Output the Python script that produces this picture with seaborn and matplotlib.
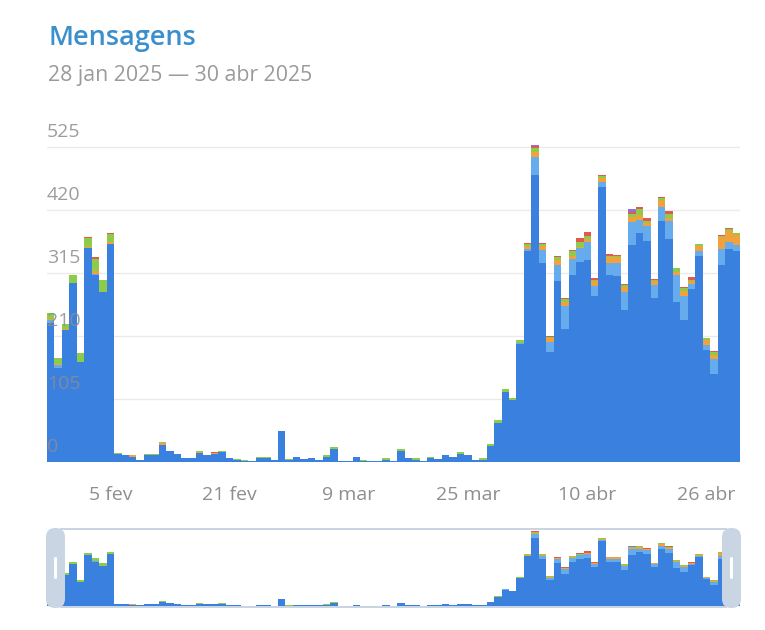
import matplotlib
matplotlib.use("Agg")
import matplotlib.pyplot as plt
from matplotlib.patches import FancyBboxPatch, Rectangle
import seaborn as sns
import pandas as pd
import numpy as np

# ---------------- data ----------------
start_date = "2025-01-28"
end_date = "2025-04-30"
tick_dates = ["2025-02-05", "2025-02-21", "2025-03-09", "2025-03-25", "2025-04-10", "2025-04-26"]
tick_labels = ["5 fev", "21 fev", "9 mar", "25 mar", "10 abr", "26 abr"]
y_ticks = [0, 105, 210, 315, 420, 525]

title = "Mensagens"
subtitle = "28 jan 2025 \u2014 30 abr 2025"

dark = [232, 157, 220, 298, 167, 356, 311, 284, 364,
        13, 11, 9, 4, 12, 12, 29, 18, 13, 6,
        6, 15, 12, 13, 17, 7, 4, 2, 1, 6,
        6, 3, 52, 3, 8, 5, 6, 4, 8, 22,
        2, 1, 8, 1, 2, 1, 4, 1, 18, 6,
        4, 1, 6, 5, 11, 9, 14, 11, 4, 4,
        26, 65, 116, 103, 197,
        351, 479, 332, 184, 301, 222, 312, 334, 337, 276,
        459, 312, 310, 254, 362, 382, 368, 273, 401, 371,
        266, 236, 288, 344, 187, 146, 329, 355, 351]
light = [4, 5, 0, 0, 0, 0, 3, 0, 0,
         0, 0, 0, 0, 0, 0, 0, 0, 0, 0,
         0, 0, 0, 0, 0, 0, 0, 0, 0, 0,
         0, 0, 0, 0, 0, 0, 0, 0, 0, 0,
         0, 0, 0, 0, 0, 0, 0, 0, 0, 0,
         0, 0, 0, 0, 0, 0, 0, 0, 0, 0,
         0, 0, 1, 1, 1,
         4, 30, 22, 16, 28, 38, 26, 22, 30, 18,
         8, 20, 22, 30, 38, 22, 25, 22, 24, 30,
         45, 40, 8, 8, 8, 25, 26, 12, 10]
orange = [2, 1, 1, 1, 0, 2, 5, 0, 2,
          0, 0, 2, 0, 0, 0, 2, 1, 0, 0,
          0, 1, 0, 2, 0, 0, 0, 0, 0, 0,
          0, 0, 0, 0, 0, 0, 0, 0, 0, 0,
          0, 0, 0, 0, 0, 0, 0, 0, 0, 0,
          0, 0, 0, 0, 0, 0, 0, 0, 0, 0,
          0, 0, 0, 0, 1,
          5, 7, 6, 6, 7, 7, 5, 3, 5, 7,
          6, 10, 10, 8, 8, 8, 6, 7, 12, 6,
          6, 9, 6, 8, 9, 8, 20, 18, 17]
green = [10, 10, 9, 12, 14, 16, 19, 19, 14,
         2, 1, 0, 0, 2, 2, 2, 0, 0, 0,
         0, 2, 0, 0, 1, 0, 1, 1, 0, 3,
         3, 0, 0, 2, 0, 0, 0, 0, 3, 3,
         0, 0, 0, 2, 0, 0, 3, 0, 3, 0,
         3, 0, 3, 0, 0, 0, 3, 0, 0, 3,
         4, 5, 5, 3, 5,
         4, 7, 3, 3, 5, 4, 8, 8, 4, 2,
         4, 2, 2, 3, 6, 10, 3, 2, 3, 7,
         6, 5, 2, 3, 2, 4, 2, 3, 3]
red = [0, 0, 0, 0, 0, 1, 3, 0, 1,
       0, 0, 0, 0, 0, 0, 0, 0, 0, 0,
       0, 0, 0, 1, 0, 0, 0, 0, 0, 0,
       0, 0, 0, 0, 0, 0, 0, 0, 0, 0,
       0, 0, 0, 0, 0, 0, 0, 0, 0, 0,
       0, 0, 0, 0, 0, 0, 0, 0, 0, 0,
       0, 0, 0, 0, 0,
       1, 3, 2, 1, 2, 2, 2, 6, 8, 4,
       2, 2, 1, 1, 2, 3, 5, 1, 2, 5,
       1, 1, 4, 1, 1, 2, 2, 2, 1]
purple = [0, 0, 0, 0, 0, 0, 0, 0, 0,
          0, 0, 0, 0, 0, 0, 0, 0, 0, 0,
          0, 0, 0, 0, 0, 0, 0, 0, 0, 0,
          0, 0, 0, 0, 0, 0, 0, 0, 0, 0,
          0, 0, 0, 0, 0, 0, 0, 0, 0, 0,
          0, 0, 0, 0, 0, 0, 0, 0, 0, 0,
          0, 0, 0, 0, 0,
          0, 2, 0, 0, 0, 0, 0, 0, 0, 0,
          0, 0, 0, 0, 6, 0, 0, 0, 0, 0,
          0, 0, 0, 0, 0, 0, 0, 0, 0]

series_values = {"dark": dark, "light": light, "orange": orange,
                 "green": green, "red": red, "purple": purple}
palette = {"dark": "#3a80df", "light": "#66acec", "orange": "#f2a23c",
           "green": "#8dcb4a", "red": "#e05a50", "purple": "#8e70d8"}
# seaborn stacks the first hue level on top
hue_order = ["purple", "red", "green", "orange", "light", "dark"]

# ---------------- build table ----------------
dates = pd.date_range(start_date, end_date, freq="D")
n = len(dates)
rows = []
for name, vals in series_values.items():
    for i, v in enumerate(vals):
        rows.append({"day": i, "series": name, "value": v})
df = pd.DataFrame(rows)
tick_pos = [int((pd.Timestamp(d) - dates[0]).days) for d in tick_dates]

# ---------------- figure ----------------
sns.set_theme(style="white")
plt.rcParams["font.family"] = ["Open Sans", "DejaVu Sans"]

W, H = 765, 630
fig = plt.figure(figsize=(W / 100, H / 100), dpi=100)
fig.patch.set_facecolor("white")

def fx(px):
    return px / W

def fy(py):
    return 1 - py / H

# main axes: x 47..740, y 138..462 (px from top)
ax = fig.add_axes([fx(47), fy(462), fx(740) - fx(47), fy(138) - fy(462)])
for gv in y_ticks:
    ax.axhline(gv, color="#ebebeb", lw=1.0, zorder=0)

sns.histplot(data=df, x="day", weights="value", hue="series", hue_order=hue_order,
             palette=palette, multiple="stack", discrete=True, shrink=1.0,
             alpha=1.0, linewidth=0, legend=False, ax=ax, zorder=2)
ax.set_xlim(-0.5, n - 0.5)
ax.set_ylim(0, 540)
ax.set_xlabel("")
ax.set_ylabel("")
ax.set_yticks([])
ax.set_xticks(tick_pos)
ax.set_xticklabels(tick_labels)
ax.tick_params(axis="x", length=0, pad=17, labelsize=14, labelcolor="#8e8e8e")
for s in ax.spines.values():
    s.set_visible(False)
for gv in y_ticks:
    ax.annotate(str(gv), xy=(-0.5, gv), xytext=(0, 4), textcoords="offset points",
                ha="left", va="bottom", fontsize=14, color="#8c8c90", alpha=0.85,
                zorder=5)

# title / subtitle
fig.text(fx(49), fy(38), title, ha="left", va="center", fontsize=19.5,
         fontweight="semibold", color="#3a8fcc")
fig.text(fx(48), fy(75), subtitle, ha="left", va="center", fontsize=15.3,
         color="#9a9a9a")

# navigator
nav = fig.add_axes([fx(47), fy(606), fx(740) - fx(47), fy(530) - fy(606)])
sns.histplot(data=df, x="day", weights="value", hue="series", hue_order=hue_order,
             palette=palette, multiple="stack", discrete=True, shrink=1.0,
             alpha=1.0, linewidth=0, legend=False, ax=nav)
nav.set_xlim(-0.5, n - 0.5)
nav.set_ylim(0, 535)
nav.set_axis_off()

hcol = "#c9d5e3"
# top & bottom borders of the selection window
fig.patches.append(Rectangle((fx(60), fy(530)), fx(727) - fx(60), fy(528) - fy(530),
                             transform=fig.transFigure, color=hcol, lw=0))
fig.patches.append(Rectangle((fx(60), fy(608)), fx(727) - fx(60), fy(606) - fy(608),
                             transform=fig.transFigure, color=hcol, lw=0))
# handles
for x0, x1 in [(46, 65), (722, 741)]:
    fig.patches.append(FancyBboxPatch((fx(x0), fy(608)), fx(x1) - fx(x0), fy(528) - fy(608),
                                      boxstyle="round,pad=0,rounding_size=0.012",
                                      transform=fig.transFigure, facecolor=hcol,
                                      edgecolor="none", mutation_aspect=W / H))
    xc = (x0 + x1) / 2
    fig.patches.append(FancyBboxPatch((fx(xc - 1.5), fy(579)), fx(3), fy(557) - fy(579),
                                      boxstyle="round,pad=0,rounding_size=0.002",
                                      transform=fig.transFigure, facecolor="white",
                                      edgecolor="none"))

fig.savefig("out.png", dpi=100, facecolor="white")
